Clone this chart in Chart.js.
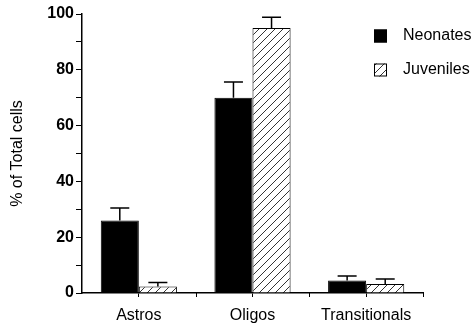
<!DOCTYPE html>
<html>
<head>
    <title>% of Total cells</title>
    <script src="https://cdn.jsdelivr.net/npm/chart.js@4"></script>
    <style>
        body { margin: 0; background: #fff; }
        #wrap { width: 475px; height: 327px; }
    </style>
</head>
<body>
    <div id="wrap"><canvas id="cellChart"></canvas></div>
    <script>
        const categories = ['Astros', 'Oligos', 'Transitionals'];
        const seriesNames = ['Neonates', 'Juveniles'];
        const neonates = [26, 70, 4.5];
        const juveniles = [2.3, 95, 3.2];
        const neonatesErr = [4.5, 5.6, 1.6];
        const juvenilesErr = [1.5, 3.8, 1.8];
        const yTicks = [0, 20, 40, 60, 80, 100];

        const font = "'Liberation Sans', Arial, sans-serif";

        // diagonal hatch for the juveniles bars
        function hatch() {
            const c = document.createElement('canvas');
            c.width = 8; c.height = 8;
            const g = c.getContext('2d');
            g.fillStyle = '#fff';
            g.fillRect(0, 0, 8, 8);
            g.strokeStyle = '#000';
            g.lineWidth = 0.8;
            g.beginPath();
            g.moveTo(-1, 9); g.lineTo(9, -1);
            g.stroke();
            return g.createPattern(c, 'repeat');
        }
        const hatchFill = hatch();

        const errorBars = {
            id: 'errorBars',
            afterDatasetsDraw(chart) {
                const ctx = chart.ctx;
                const y = chart.scales.y;
                const errs = [neonatesErr, juvenilesErr];
                ctx.save();
                ctx.strokeStyle = '#000';
                ctx.lineWidth = 1.5;
                chart.data.datasets.forEach((ds, i) => {
                    chart.getDatasetMeta(i).data.forEach((bar, j) => {
                        const top = y.getPixelForValue(ds.data[j] + errs[i][j]);
                        ctx.beginPath();
                        ctx.moveTo(bar.x, bar.y);
                        ctx.lineTo(bar.x, top);
                        ctx.moveTo(bar.x - 9.5, top);
                        ctx.lineTo(bar.x + 9.5, top);
                        ctx.stroke();
                    });
                });
                ctx.restore();
            }
        };

        const extras = {
            id: 'extras',
            afterDraw(chart) {
                const ctx = chart.ctx;
                const x = chart.scales.x;
                const area = chart.chartArea;
                ctx.save();
                // tick marks between categories
                ctx.strokeStyle = '#000';
                ctx.lineWidth = 1;
                for (let i = 0; i < categories.length; i++) {
                    const px = Math.round(x.getPixelForValue(i) + x.width / categories.length / 2) + 0.5;
                    ctx.beginPath();
                    ctx.moveTo(px, area.bottom);
                    ctx.lineTo(px, area.bottom + 4);
                    ctx.stroke();
                }
                // legend
                const fills = ['#000', hatchFill];
                ctx.font = '16px ' + font;
                ctx.textBaseline = 'middle';
                seriesNames.forEach((name, i) => {
                    const cy = 36 + i * 34;
                    ctx.fillStyle = fills[i];
                    ctx.fillRect(374, cy - 6.5, 13, 13);
                    ctx.strokeStyle = '#000';
                    ctx.strokeRect(374.5, cy - 6, 12, 12);
                    ctx.fillStyle = '#000';
                    ctx.fillText(name, 403, cy);
                });
                ctx.restore();
            }
        };

        new Chart(document.getElementById('cellChart'), {
            type: 'bar',
            data: {
                labels: categories,
                datasets: [{
                    label: seriesNames[0],
                    data: neonates,
                    backgroundColor: '#000',
                    borderColor: '#000',
                    borderWidth: 1
                }, {
                    label: seriesNames[1],
                    data: juveniles,
                    backgroundColor: hatchFill,
                    borderColor: '#000',
                    borderWidth: 1
                }]
            },
            options: {
                responsive: true,
                maintainAspectRatio: false,
                animation: false,
                layout: { padding: { top: 14, right: 52, left: 0, bottom: 0 } },
                datasets: { bar: { categoryPercentage: 0.67, barPercentage: 1.0 } },
                plugins: {
                    legend: { display: false },
                    tooltip: { enabled: false }
                },
                scales: {
                    x: {
                        afterFit(s) { s.height = 34; },
                        grid: { display: true, drawOnChartArea: false, offset: false, color: '#000', tickLength: 4 },
                        border: { display: true, color: '#000', width: 1.5 },
                        ticks: { color: '#000', font: { family: font, size: 16 }, padding: 9 }
                    },
                    y: {
                        min: 0,
                        max: 100,
                        afterFit(s) { s.width = 82; },
                        grid: { display: true, drawOnChartArea: false, color: '#000', tickLength: 6 },
                        border: { display: true, color: '#000', width: 1.5 },
                        ticks: {
                            stepSize: 10,
                            color: '#000',
                            padding: 2,
                            font: { family: font, size: 16, weight: 'bold' },
                            callback: v => yTicks.includes(v) ? v : ''
                        },
                        title: {
                            display: true,
                            text: '% of Total cells',
                            color: '#000',
                            font: { family: font, size: 16 },
                            padding: { top: 8, bottom: 0 }
                        }
                    }
                }
            },
            plugins: [errorBars, extras]
        });
    </script>
</body>
</html>
